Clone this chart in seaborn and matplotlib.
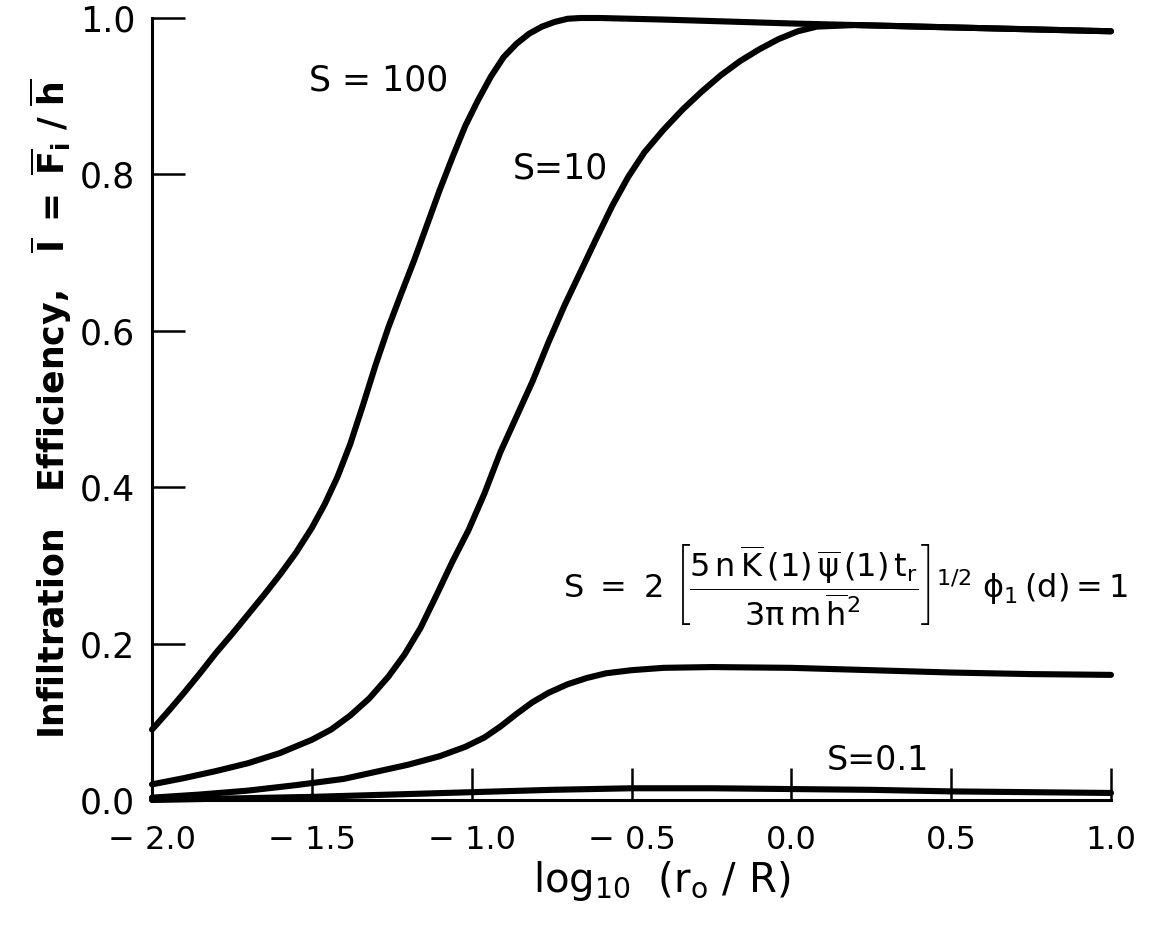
import matplotlib
matplotlib.use("Agg")
import matplotlib.pyplot as plt
import seaborn as sns
import pandas as pd

# ---- data ----
x_s100 = [-2.00, -1.95, -1.90, -1.85, -1.80, -1.75, -1.70, -1.65, -1.60, -1.55,
          -1.50, -1.46, -1.42, -1.38, -1.34, -1.30, -1.26, -1.22, -1.18, -1.14,
          -1.10, -1.06, -1.02, -0.98, -0.94, -0.90, -0.86, -0.82, -0.78, -0.74,
          -0.70, -0.66, -0.60, -0.40, 0.00, 0.50, 1.00]
y_s100 = [0.090, 0.113, 0.137, 0.162, 0.188, 0.212, 0.237, 0.262, 0.288, 0.316,
          0.348, 0.378, 0.413, 0.455, 0.505, 0.557, 0.605, 0.648, 0.690, 0.735,
          0.780, 0.822, 0.862, 0.895, 0.925, 0.950, 0.967, 0.980, 0.989, 0.995,
          0.999, 1.000, 1.000, 0.998, 0.993, 0.988, 0.983]

x_s10 = [-2.00, -1.90, -1.80, -1.70, -1.60, -1.50, -1.44, -1.38, -1.32, -1.26,
         -1.21, -1.16, -1.11, -1.06, -1.01, -0.96, -0.91, -0.86, -0.81, -0.76,
         -0.71, -0.66, -0.61, -0.56, -0.51, -0.46, -0.40, -0.34, -0.28, -0.22,
         -0.16, -0.10, -0.04, 0.02, 0.08, 0.20, 0.50, 1.00]
y_s10 = [0.020, 0.028, 0.037, 0.047, 0.060, 0.077, 0.090, 0.108, 0.130, 0.158,
         0.186, 0.220, 0.262, 0.305, 0.345, 0.392, 0.445, 0.490, 0.535, 0.585,
         0.632, 0.675, 0.718, 0.760, 0.797, 0.828, 0.857, 0.883, 0.906, 0.927,
         0.945, 0.960, 0.973, 0.983, 0.989, 0.991, 0.988, 0.983]

x_s1 = [-2.00, -1.85, -1.70, -1.55, -1.40, -1.30, -1.20, -1.10, -1.02, -0.96,
        -0.91, -0.86, -0.81, -0.76, -0.70, -0.64, -0.58, -0.50, -0.40, -0.25,
        0.00, 0.25, 0.50, 0.75, 1.00]
y_s1 = [0.003, 0.007, 0.012, 0.019, 0.027, 0.036, 0.045, 0.056, 0.068, 0.080,
        0.094, 0.110, 0.125, 0.137, 0.148, 0.156, 0.162, 0.166, 0.169, 0.170,
        0.169, 0.166, 0.163, 0.161, 0.160]

x_s01 = [-2.00, -1.75, -1.50, -1.25, -1.00, -0.75, -0.50, -0.25, 0.00, 0.25, 0.50, 0.75, 1.00]
y_s01 = [0.000, 0.002, 0.004, 0.007, 0.010, 0.013, 0.015, 0.015, 0.014, 0.013, 0.011, 0.010, 0.009]

x_ticks = [-2.0, -1.5, -1.0, -0.5, 0.0, 0.5, 1.0]
x_ticklabels = ["\u2212 2.0", "\u2212 1.5", "\u2212 1.0", "\u2212 0.5", "0.0", "0.5", "1.0"]
y_ticks = [0.0, 0.2, 0.4, 0.6, 0.8, 1.0]
y_ticklabels = ["0.0", "0.2", "0.4", "0.6", "0.8", "1.0"]

series = {"100": (x_s100, y_s100), "10": (x_s10, y_s10),
          "1": (x_s1, y_s1), "0.1": (x_s01, y_s01)}
rows = []
for s, (xs, ys) in series.items():
    for xv, yv in zip(xs, ys):
        rows.append({"log_r": xv, "eff": yv, "S": s})
df = pd.DataFrame(rows)

# ---- style ----
sns.set_style("ticks")
plt.rcParams["font.family"] = ["DejaVu Sans"]
plt.rcParams["text.color"] = "black"
plt.rcParams["axes.labelcolor"] = "black"
plt.rcParams["mathtext.fontset"] = "custom"
plt.rcParams["mathtext.rm"] = "DejaVu Sans"
plt.rcParams["mathtext.it"] = "DejaVu Sans"
plt.rcParams["mathtext.bf"] = "DejaVu Sans:bold"
plt.rcParams["mathtext.sf"] = "DejaVu Sans"

fig = plt.figure(figsize=(11.55, 9.32), dpi=100)
ax = fig.add_axes([152 / 1155, 1 - 800 / 932, (1111 - 152) / 1155, (800 - 18) / 932])

sns.lineplot(data=df, x="log_r", y="eff", hue="S", palette={k: "black" for k in series},
             estimator=None, sort=False, legend=False, linewidth=4.4, ax=ax)
for ln in ax.lines:
    ln.set_clip_on(False)
    ln.set_solid_capstyle("round")
    ln.set_solid_joinstyle("round")

ax.set_xlim(-2.0, 1.0)
ax.set_ylim(0.0, 1.0)
ax.set_xticks(x_ticks)
ax.set_xticklabels(x_ticklabels, fontsize=23)
ax.set_yticks(y_ticks)
ax.set_yticklabels(y_ticklabels, fontsize=25)

for side in ["top", "right"]:
    ax.spines[side].set_visible(False)
for side in ["left", "bottom"]:
    ax.spines[side].set_linewidth(2.2)
    ax.spines[side].set_color("black")
ax.tick_params(axis="x", direction="in", length=23, width=1.8, pad=18, colors="black")
ax.tick_params(axis="y", direction="in", length=24, width=1.8, pad=12, colors="black")

ax.set_ylabel(r"Infiltration   Efficiency,   $\overline{\mathbf{I}}\ \mathbf{=}\ \overline{\mathbf{F}}_{\mathbf{i}}\ \mathbf{/}\ \overline{\mathbf{h}}$",
              fontsize=25, fontweight="bold", color="black")
ax.yaxis.set_label_coords(-0.081, 0.5)
ax.set_xlabel(r"$\mathrm{log_{10}\ \ (r_o\ /\ R)}$", fontsize=29, color="black")
ax.xaxis.set_label_coords(0.532, -0.076)

ax.text(-1.29, 0.92, "S = 100", fontsize=25, ha="center", va="center", color="black")
ax.text(-0.724, 0.808, "S=10", fontsize=25, ha="center", va="center", color="black")
ax.text(0.27, 0.05, "S=0.1", fontsize=24, ha="center", va="center", color="black")
ax.text(0.17, 0.275,
        r"$\mathrm{S}\ =\ 2\ \left[\dfrac{5\,n\,\overline{K}\,(1)\,\overline{\psi}\,(1)\,t_r}{3\pi\,m\,\overline{h}^2}\right]^{1/2}\ \phi_1\,(d) = 1$",
        fontsize=23, ha="center", va="center", color="black")

fig.savefig("out.png", dpi=100, facecolor="white")
